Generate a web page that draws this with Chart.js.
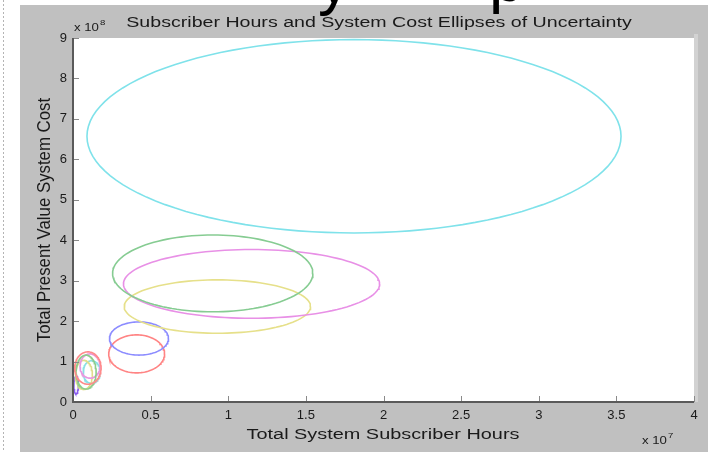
<!DOCTYPE html>
<html>
<head>
<meta charset="utf-8">
<script src="https://cdn.jsdelivr.net/npm/chart.js@4/dist/chart.umd.min.js"></script>
<style>
  html, body { margin: 0; padding: 0; background: #fff; }
  #wrap { position: relative; width: 708px; height: 452px; overflow: hidden; }
  #plot { position: absolute; left: 0; top: 0; }
</style>
</head>
<body>
<div id="wrap"><canvas id="plot" width="708" height="452"></canvas></div>
<script>
// Ellipses of uncertainty: centre and semi-axes for each system alternative
// x in units of 1e7 subscriber hours, y in units of 1e8 (present value cost)
const centerX = [1.81, 0.90, 1.15, 0.93, 0.425, 0.41, 0.096, 0.084, 0.11, 0.07, 0.12, 0.02];
const centerY = [6.57, 3.18, 2.92, 2.36, 1.57, 1.19, 0.84, 0.74, 0.89, 0.67, 0.74, 0.42];
const radiusX = [1.72, 0.645, 0.825, 0.60, 0.19, 0.18, 0.085, 0.065, 0.065, 0.055, 0.055, 0.015];
const radiusY = [2.39, 0.95, 0.85, 0.66, 0.41, 0.47, 0.40, 0.42, 0.30, 0.36, 0.28, 0.22];

const xTicks = [0, 0.5, 1, 1.5, 2, 2.5, 3, 3.5, 4];
const yTicks = [0, 1, 2, 3, 4, 5, 6, 7, 8, 9];

const titleText = 'Subscriber Hours and System Cost Ellipses of Uncertainty';
const xTitle = 'Total System Subscriber Hours';
const yTitle = 'Total Present Value System Cost';

const strokeColors = ['#7fe2ea', '#86cc92', '#e890e6', '#e6e08a', '#8c8cff', '#ff8484',
                      '#ff8a8a', '#8ccc8c', '#e898e0', '#e2dc8c', '#8ae0e6', '#8a5cf0'];

const FONT = '"Liberation Sans", Arial, sans-serif';

// outline of an ellipse as a closed polyline in data space
function outline(cx, cy, rx, ry) {
  const pts = [];
  const n = 120;
  for (let i = 0; i <= n; i++) {
    const t = (i / n) * Math.PI * 2;
    pts.push({ x: cx + rx * Math.cos(t), y: cy + ry * Math.sin(t) });
  }
  return pts;
}

const datasets = centerX.map((cx, i) => ({
  data: outline(cx, centerY[i], radiusX[i], radiusY[i]),
  showLine: true,
  borderColor: strokeColors[i],
  borderWidth: 1.6,
  pointRadius: 0,
  fill: false,
  tension: 0
}));

// text drawn with a wide horizontal aspect
function wideText(ctx, text, x, y, sx, font, align) {
  ctx.save();
  ctx.font = font;
  ctx.textAlign = align || 'center';
  ctx.textBaseline = 'alphabetic';
  ctx.translate(x, y);
  ctx.scale(sx, 1);
  ctx.fillText(text, 0, 0);
  ctx.restore();
}

const figure = {
  id: 'figure',
  beforeDraw(chart) {
    const ctx = chart.ctx;
    const a = chart.chartArea;
    ctx.save();
    ctx.fillStyle = '#ffffff';
    ctx.fillRect(0, 0, chart.width, chart.height);
    // figure window
    ctx.fillStyle = '#c0c0c0';
    ctx.fillRect(20, 5, chart.width - 20, chart.height - 5);
    ctx.fillStyle = '#d2d2d2';
    ctx.fillRect(a.right, 34, 4, a.bottom - 34);
    // dotted slide edge
    ctx.strokeStyle = '#b4b4b4';
    ctx.setLineDash([2, 2]);
    ctx.beginPath(); ctx.moveTo(3.5, 0); ctx.lineTo(3.5, chart.height); ctx.stroke();
    ctx.setLineDash([]);
    // axes background
    ctx.fillStyle = '#ffffff';
    ctx.fillRect(a.left, a.top, a.right - a.left, a.bottom - a.top);
    ctx.restore();
  },
  afterDraw(chart) {
    const ctx = chart.ctx;
    const a = chart.chartArea;
    const xs = chart.scales.x, ys = chart.scales.y;
    ctx.save();
    // inward tick marks
    ctx.strokeStyle = '#8a8a8a';
    ctx.lineWidth = 1;
    xTicks.forEach(v => {
      const px = Math.round(xs.getPixelForValue(v)) + 0.5;
      ctx.beginPath(); ctx.moveTo(px, a.bottom); ctx.lineTo(px, a.bottom - 6); ctx.stroke();
    });
    yTicks.forEach(v => {
      const py = Math.round(ys.getPixelForValue(v)) + 0.5;
      ctx.beginPath(); ctx.moveTo(a.left, py); ctx.lineTo(a.left + 6, py); ctx.stroke();
    });
    // axis lines
    ctx.strokeStyle = '#5a5a5a';
    ctx.lineWidth = 2;
    ctx.beginPath();
    ctx.moveTo(a.left, a.top);
    ctx.lineTo(a.left, a.bottom);
    ctx.lineTo(a.right, a.bottom);
    ctx.stroke();

    ctx.fillStyle = '#1a1a1a';
    // title
    wideText(ctx, titleText, 379, 27, 1.4, '14px ' + FONT);
    // axis titles
    wideText(ctx, xTitle, 383, 439, 1.42, '14px ' + FONT);
    ctx.save();
    ctx.translate(50, 220);
    ctx.rotate(-Math.PI / 2);
    ctx.scale(1.2, 1.3);
    ctx.font = '14px ' + FONT;
    ctx.textAlign = 'center';
    ctx.textBaseline = 'alphabetic';
    ctx.fillText(yTitle, 0, 0);
    ctx.restore();
    // exponent labels
    wideText(ctx, 'x 10', 74, 31, 1.2, '11px ' + FONT, 'left');
    wideText(ctx, '8', 100, 25, 1.2, '8px ' + FONT, 'left');
    wideText(ctx, 'x 10', 642, 444, 1.2, '11px ' + FONT, 'left');
    wideText(ctx, '7', 668, 438, 1.2, '8px ' + FONT, 'left');
    // large heading above the figure, mostly cut off by the page top
    ctx.fillStyle = '#000000';
    ctx.font = '64px ' + FONT;
    ctx.textAlign = 'left';
    ctx.textBaseline = 'alphabetic';
    ctx.fillText('y', 318, 3);
    ctx.fillText('p', 489, 1);
    ctx.restore();
  }
};

new Chart(document.getElementById('plot'), {
  type: 'scatter',
  data: { datasets },
  options: {
    responsive: false,
    animation: false,
    events: [],
    layout: { padding: { left: 45, right: 14, top: 38, bottom: 0 } },
    plugins: { legend: { display: false }, tooltip: { enabled: false }, title: { display: false } },
    scales: {
      x: {
        type: 'linear',
        min: 0, max: 4,
        afterBuildTicks: s => { s.ticks = xTicks.map(v => ({ value: v })); },
        afterFit: s => { s.height = 50; },
        grid: { display: false, drawTicks: false },
        border: { display: false },
        ticks: { color: '#1a1a1a', padding: 6, font: { family: FONT, size: 13 }, maxRotation: 0,
                 callback: v => String(v) }
      },
      y: {
        type: 'linear',
        min: 0, max: 9,
        afterBuildTicks: s => { s.ticks = yTicks.map(v => ({ value: v })); },
        afterFit: s => { s.width = 28; },
        grid: { display: false, drawTicks: false },
        border: { display: false },
        ticks: { color: '#1a1a1a', padding: 6, font: { family: FONT, size: 13 },
                 callback: v => String(v) }
      }
    }
  },
  plugins: [figure]
});
</script>
</body>
</html>
